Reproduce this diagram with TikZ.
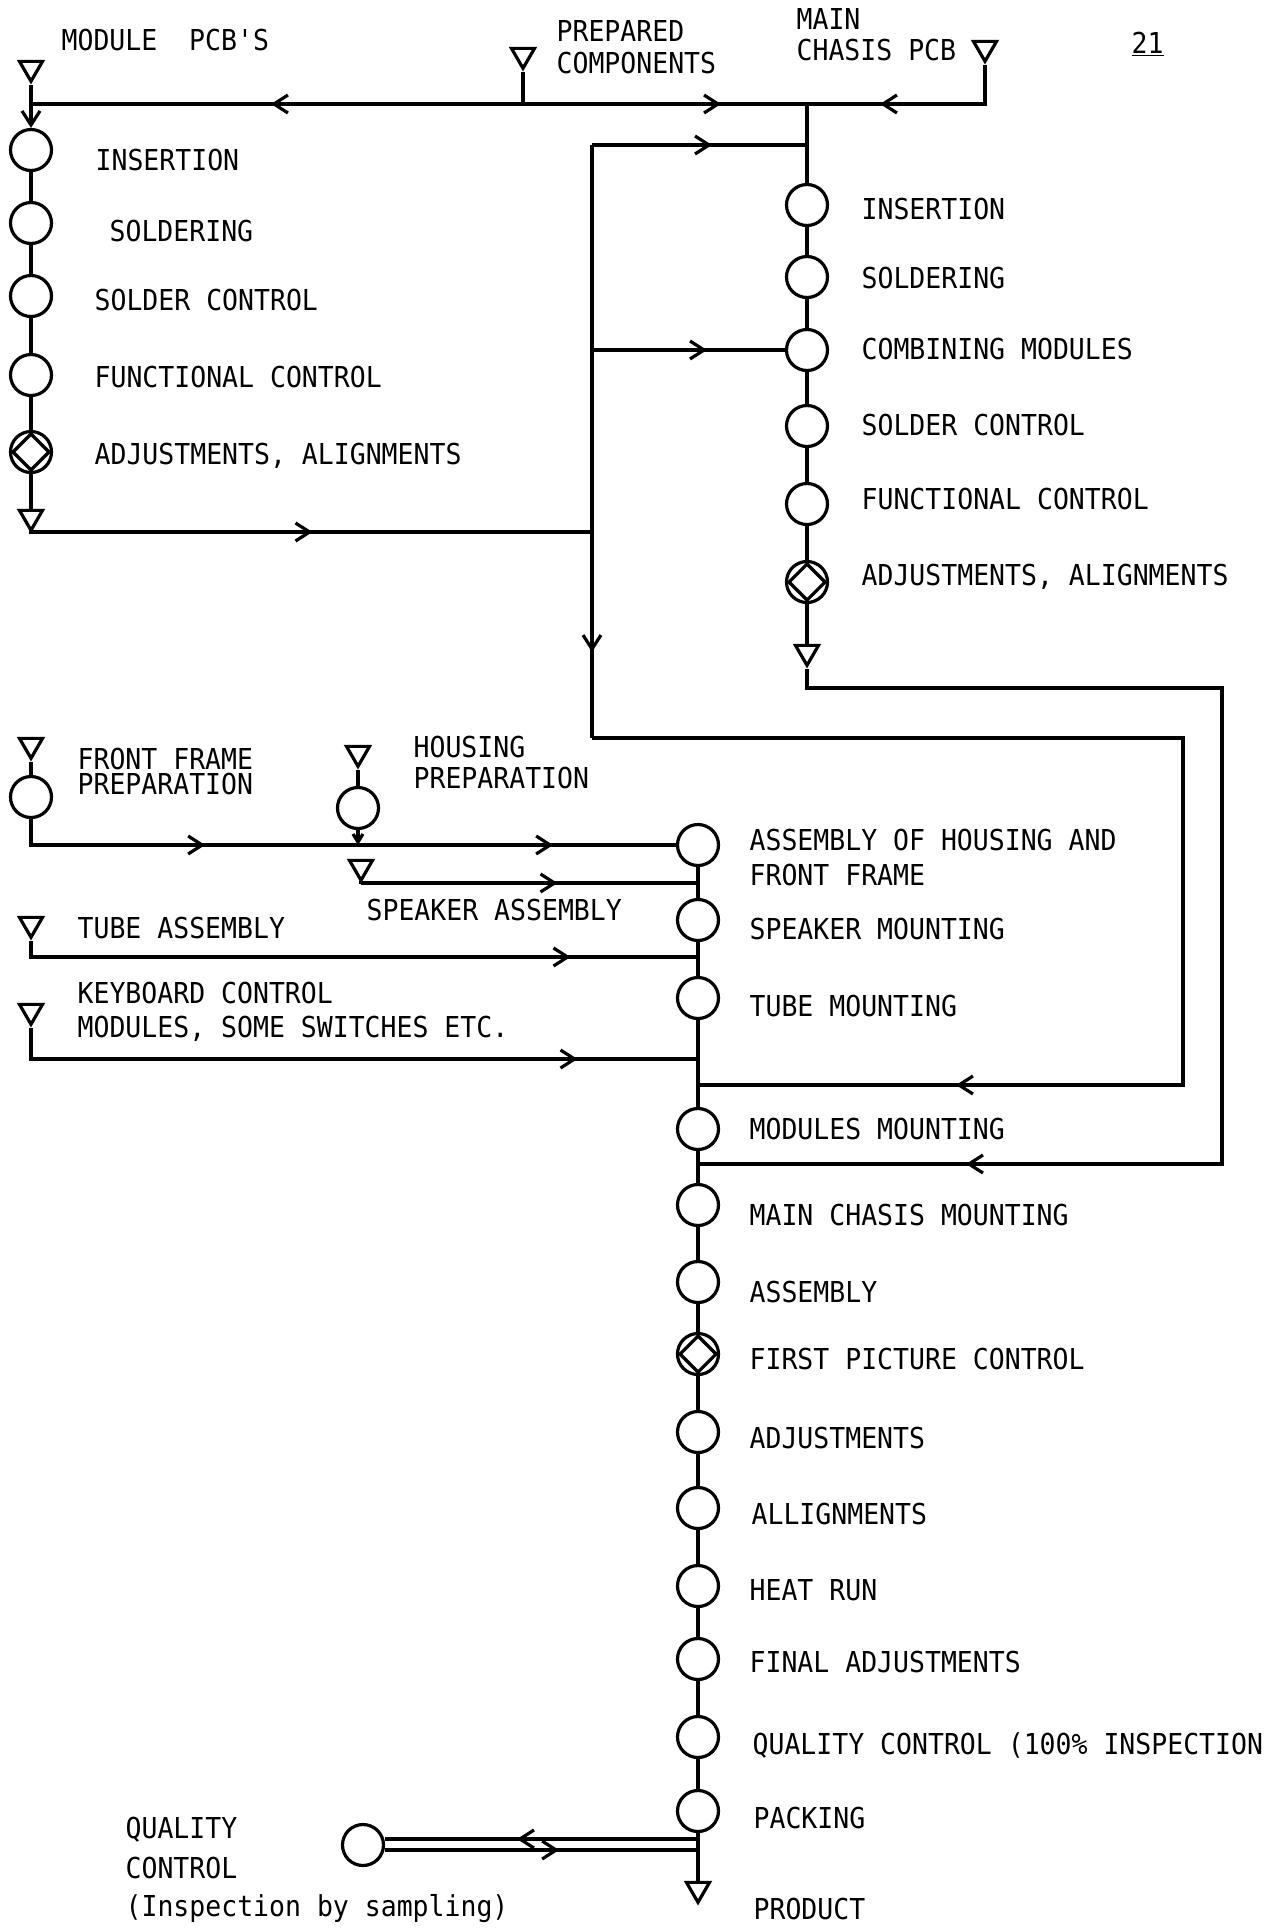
\documentclass[tikz,border=0pt]{standalone}
\usepackage{fontspec}
\usetikzlibrary{arrows.meta,shapes.geometric,decorations.markings}
\newfontfamily\tw[FakeStretch=0.92]{DejaVu Sans Mono}
\newcommand{\tsz}{\tw\fontsize{14.4pt}{17pt}\selectfont\frenchspacing}
\tikzset{
  op/.style={draw,circle,minimum size=20.5pt,inner sep=0pt},
  insp/.style={op,path picture={\draw (path picture bounding box.center) ++(0,9pt) -- ++(-9pt,-9pt) -- ++(9pt,-9pt) -- ++(9pt,9pt) -- cycle;}},
  store/.style={draw,regular polygon,regular polygon sides=3,shape border rotate=180,minimum size=13.3pt,inner sep=0pt},
  lbl/.style={anchor=base west,inner sep=0pt,font=\tsz},
  ar/.style={-{Straight Barb[length=7pt,width=9pt]}},
  mid/.style={postaction={decorate,decoration={markings,mark=at position #1 with {\arrow{Straight Barb[length=7pt,width=9pt]}}}}},
}

\begin{document}
\begin{tikzpicture}[x=0.5pt,y=-0.5pt,line width=1.6pt]
  \useasboundingbox (0,0) rectangle (1272,1929);
  \fill[white] (0,0) rectangle (1272,1929);

  % top inputs
  \node[store] (s0) at (31,68) {};
  \node[store] (s1) at (523,55) {};
  \node[store] (s2) at (985,48) {};
  \coordinate (j0) at (31,104);
  \coordinate (j1) at (523,104);
  \coordinate (j2) at (807,104);
  \node[lbl] (t0) at (60,50) {MODULE\ \ PCB'S};
  \node[lbl] (t1) at (555,41) {PREPARED};
  \node[lbl] (t2) at (555,73) {COMPONENTS};
  \node[lbl] (t3) at (795,29) {MAIN};
  \node[lbl] (t4) at (795,60) {CHASIS PCB};
  \node[lbl] (t5) at (1130,53) {\underline{21}};

  % module pcb line
  \node[op] (a1) at (31,150) {};
  \node[op] (a2) at (31,223) {};
  \node[op] (a3) at (31,296) {};
  \node[op] (a4) at (31,375) {};
  \node[insp] (a5) at (31,452) {};
  \node[store] (s3) at (31,517) {};
  \node[lbl] (la1) at (94,170) {INSERTION};
  \node[lbl] (la2) at (108,241) {SOLDERING};
  \node[lbl] (la3) at (93,310) {SOLDER CONTROL};
  \node[lbl] (la4) at (93,387) {FUNCTIONAL CONTROL};
  \node[lbl] (la5) at (93,464) {ADJUSTMENTS, ALIGNMENTS};

  % main chasis pcb line
  \node[op] (b1) at (807,205) {};
  \node[op] (b2) at (807,277) {};
  \node[op] (b3) at (807,350) {};
  \node[op] (b4) at (807,426) {};
  \node[op] (b5) at (807,504) {};
  \node[insp] (b6) at (807,582) {};
  \node[store] (s4) at (807,652) {};
  \node[lbl] (lb1) at (860,219) {INSERTION};
  \node[lbl] (lb2) at (860,288) {SOLDERING};
  \node[lbl] (lb3) at (860,359) {COMBINING MODULES};
  \node[lbl] (lb4) at (860,435) {SOLDER CONTROL};
  \node[lbl] (lb5) at (860,509) {FUNCTIONAL CONTROL};
  \node[lbl] (lb6) at (860,585) {ADJUSTMENTS, ALIGNMENTS};

  \coordinate (j5) at (592,532);
  \coordinate (j6) at (592,145);
  \coordinate (j7) at (592,350);
  \coordinate (j8) at (592,738);
  \coordinate (j9) at (807,145);

  % side inputs
  \node[store] (s5) at (31,745) {};
  \node[op] (f1) at (31,797) {};
  \node[store] (s6) at (358,753) {};
  \node[op] (h1) at (358,808) {};
  \node[store] (s7) at (361,867) {};
  \node[store] (s8) at (31,924) {};
  \node[store] (s9) at (31,1011) {};
  \node[lbl] (lf1) at (76,769) {FRONT FRAME};
  \node[lbl] (lf2) at (76,794) {PREPARATION};
  \node[lbl] (lh1) at (412,757) {HOUSING};
  \node[lbl] (lh2) at (412,788) {PREPARATION};
  \node[lbl] (ls1) at (365,920) {SPEAKER ASSEMBLY};
  \node[lbl] (lt1) at (76,938) {TUBE ASSEMBLY};
  \node[lbl] (lk1) at (76,1003) {KEYBOARD CONTROL};
  \node[lbl] (lk2) at (76,1037) {MODULES, SOME SWITCHES ETC.};

  % final assembly line
  \node[op] (m1) at (698,845) {};
  \node[op] (m2) at (698,920) {};
  \node[op] (m3) at (698,998) {};
  \node[op] (m4) at (698,1129) {};
  \node[op] (m5) at (698,1205) {};
  \node[op] (m6) at (698,1282) {};
  \node[insp] (m7) at (698,1354) {};
  \node[op] (m8) at (698,1432) {};
  \node[op] (m9) at (698,1508) {};
  \node[op] (m10) at (698,1586) {};
  \node[op] (m11) at (698,1659) {};
  \node[op] (m12) at (698,1737) {};
  \node[op] (m13) at (698,1811) {};
  \node[store] (s10) at (698,1889) {};
  \node[lbl] (lm1) at (748,850) {ASSEMBLY OF HOUSING AND};
  \node[lbl] (lm1b) at (748,885) {FRONT FRAME};
  \node[lbl] (lm2) at (748,939) {SPEAKER MOUNTING};
  \node[lbl] (lm3) at (748,1016) {TUBE MOUNTING};
  \node[lbl] (lm4) at (748,1139) {MODULES MOUNTING};
  \node[lbl] (lm5) at (748,1225) {MAIN CHASIS MOUNTING};
  \node[lbl] (lm6) at (748,1302) {ASSEMBLY};
  \node[lbl] (lm7) at (748,1369) {FIRST PICTURE CONTROL};
  \node[lbl] (lm8) at (748,1448) {ADJUSTMENTS};
  \node[lbl] (lm9) at (750,1524) {ALLIGNMENTS};
  \node[lbl] (lm10) at (748,1600) {HEAT RUN};
  \node[lbl] (lm11) at (748,1672) {FINAL ADJUSTMENTS};
  \node[lbl] (lm12) at (751,1754) {QUALITY CONTROL (100\% INSPECTION};
  \node[lbl] (lm13) at (752,1828) {PACKING};
  \node[lbl] (lm14) at (752,1919) {PRODUCT};

  \coordinate (j10) at (698,1085);
  \coordinate (j11) at (698,1164);
  \coordinate (j13) at (358,845);
  \coordinate (j14) at (698,883);
  \coordinate (j15) at (698,957);
  \coordinate (j16) at (698,1059);
  \coordinate (j17) at (698,1839);
  \coordinate (j18) at (698,1850);

  % sampling inspection
  \node[op] (q1) at (363,1845) {};
  \node[lbl] (lq1) at (124,1838) {QUALITY};
  \node[lbl] (lq2) at (124,1878) {CONTROL};
  \node[lbl] (lq3) at (124,1916) {(Inspection by sampling)};

  \draw (s0) -- (j0);
  \draw (s1) -- (j1);
  \draw[mid=126pt] (j1) -- (j0);
  \draw[mid=99pt] (j1) -- (j2);
  \draw[mid=-36.5pt] (s2.south) |- (j2);
  \draw[ar] (j0) -- (a1);
  \draw (a1) -- (a2) -- (a3) -- (a4) -- (a5) -- (s3);
  \draw[mid=141.5pt] (s3.south) |- (j5);
  \draw (j2) -- (b1) -- (b2) -- (b3) -- (b4) -- (b5) -- (b6) -- (s4);
  \draw[mid=253.5pt] (j6) -- (j8);
  \draw[mid=60pt] (j6) -- (j9);
  \draw[mid=57.5pt] (j7) -- (b3);
  \draw[mid=-129pt] (j8) -- (1183,738) |- (j10);
  \draw[mid=-134pt] (s4.south) |- (1222,688) |- (j11);

  \draw (s5) -- (f1);
  \draw[mid=100pt,mid=274pt] (f1) |- (m1);
  \draw (s6) -- (h1);
  \draw[-{Straight Barb[length=4pt,width=5pt]}] (h1) -- (j13);
  \draw[mid=98.5pt] (s7.south) |- (j14);
  \draw[mid=278pt] (s8.south) |- (j15);
  \draw[mid=289pt] (s9.south) |- (j16);
  \draw (m1) -- (m2) -- (m3) -- (m4) -- (m5) -- (m6) -- (m7) -- (m8) -- (m9) -- (m10) -- (m11) -- (m12) -- (m13) -- (s10);
  \draw[mid=90.5pt] (j17) -- (j17 -| q1.east);
  \draw[mid=87pt] (j18 -| q1.east) -- (j18);
\end{tikzpicture}
\end{document}
